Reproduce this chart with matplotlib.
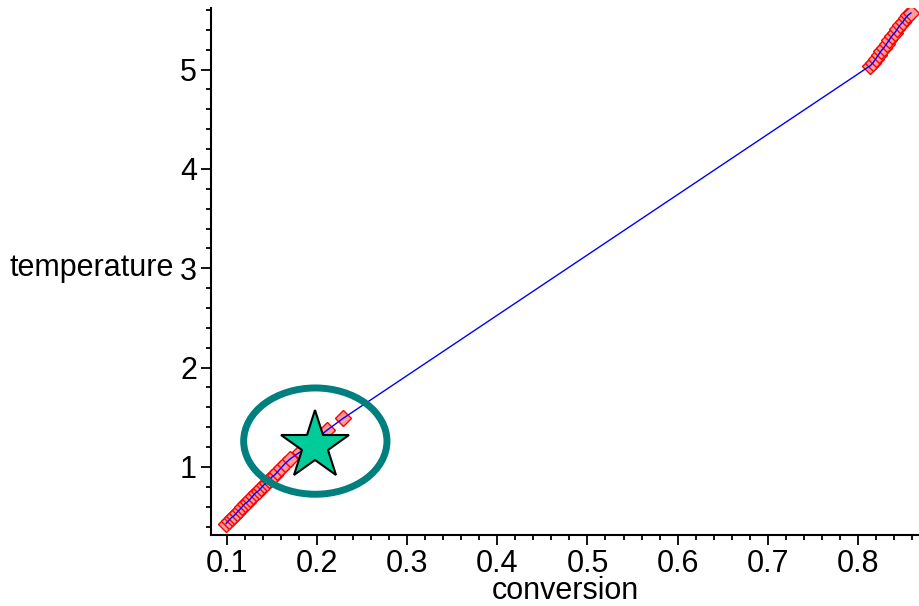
import matplotlib
matplotlib.use("Agg")
import matplotlib.pyplot as plt
from matplotlib.patches import Ellipse
from matplotlib.ticker import MultipleLocator, FormatStrFormatter

plt.rcParams['font.family'] = ['Liberation Sans', 'DejaVu Sans']

# sampled points of the conversion / temperature curve
conv_low = [0.099, 0.102, 0.105, 0.108, 0.111, 0.114, 0.117, 0.120, 0.123,
            0.126, 0.129, 0.132, 0.135, 0.138, 0.141, 0.144, 0.147, 0.150,
            0.153, 0.156, 0.160, 0.164, 0.170, 0.181, 0.211, 0.229]
temp_low = [0.43, 0.46, 0.49, 0.51, 0.54, 0.57, 0.60, 0.63, 0.65,
            0.68, 0.71, 0.74, 0.76, 0.79, 0.82, 0.84, 0.87, 0.90,
            0.92, 0.95, 0.99, 1.03, 1.08, 1.15, 1.37, 1.49]
conv_high = [0.814, 0.817, 0.820, 0.823, 0.826, 0.829, 0.832, 0.835,
             0.838, 0.841, 0.844, 0.847, 0.850, 0.853, 0.856, 0.859]
temp_high = [5.04, 5.07, 5.11, 5.15, 5.19, 5.22, 5.26, 5.30,
             5.34, 5.37, 5.41, 5.45, 5.48, 5.52, 5.55, 5.57]

# operating point marked with a star
star_conv = 0.198
star_temp = 1.21

xticks = [0.1, 0.2, 0.3, 0.4, 0.5, 0.6, 0.7, 0.8]
yticks = [1, 2, 3, 4, 5]

fig = plt.figure(figsize=(9.2, 6.06), dpi=100)
ax = fig.add_axes([0.2293, 0.1172, 0.7707, 0.8696])

conv = conv_low + conv_high
temp = temp_low + temp_high
ax.plot(conv, temp, linestyle='none', marker='D', markersize=8,
        markerfacecolor='#ff9a9a', markeredgecolor='red', markeredgewidth=1.0,
        zorder=2)
ax.plot(conv, temp, color='blue', linewidth=1.0, zorder=3)

ax.add_patch(Ellipse((0.198, 1.26), 0.159, 1.07, fill=False,
                     edgecolor='#007f7f', linewidth=5, zorder=4))
ax.plot([star_conv], [star_temp], marker='*', markersize=52,
        markerfacecolor='#00cc99', markeredgecolor='black',
        markeredgewidth=1.5, zorder=5)

ax.set_xlim(0.0822, 0.869)
ax.set_ylim(0.315, 5.62)

for s in ['top', 'right']:
    ax.spines[s].set_visible(False)
for s in ['left', 'bottom']:
    ax.spines[s].set_linewidth(1.5)

ax.set_xticks(xticks)
ax.set_yticks(yticks)
ax.xaxis.set_major_formatter(FormatStrFormatter('%.1f'))
ax.xaxis.set_minor_locator(MultipleLocator(0.02))
ax.yaxis.set_minor_locator(MultipleLocator(0.2))
ax.tick_params(which='major', direction='out', length=7, width=1.3,
               labelsize=22, pad=3)
ax.tick_params(which='minor', direction='out', length=3.5, width=1.3)

ax.set_xlabel('conversion', fontsize=22, labelpad=-2)
ax.set_ylabel('temperature', fontsize=22, rotation=0, ha='right', va='center')
ax.yaxis.set_label_coords(-0.053, 0.506)

fig.savefig('out.png', dpi=100)
